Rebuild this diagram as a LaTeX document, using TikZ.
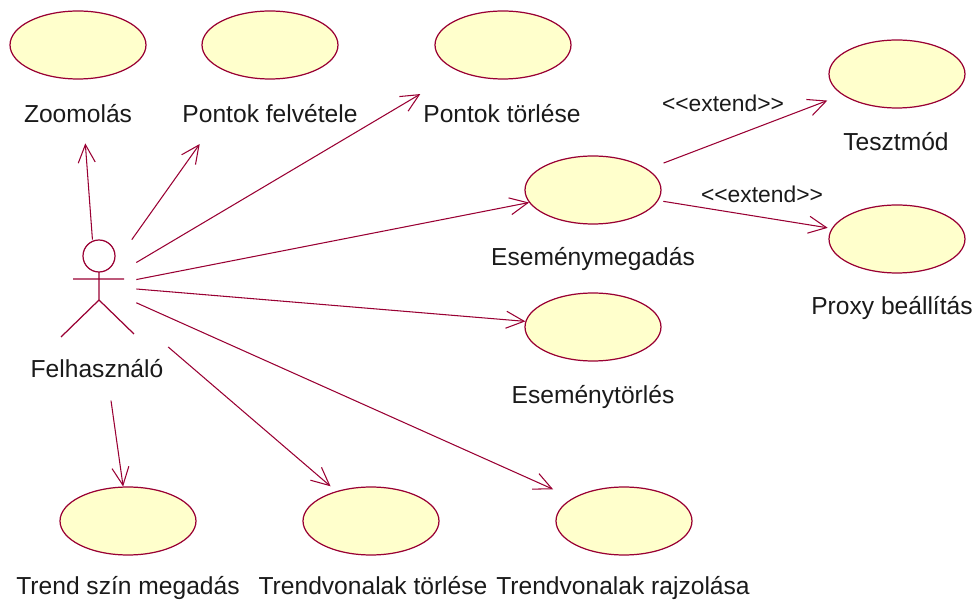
\documentclass[tikz,border=0pt]{standalone}
\usepackage{fontspec}
\setmainfont{Liberation Sans}
\usepackage{xcolor}
\definecolor{rosered}{HTML}{990033}
\definecolor{rosefill}{HTML}{FFFFCC}
\definecolor{inkgray}{HTML}{1A1A1A}
\usetikzlibrary{shapes.geometric, arrows.meta}
\tikzset{
  ucase/.style={ellipse, draw=rosered, line width=0.7pt, fill=rosefill,
                minimum width=2.72cm, minimum height=1.36cm, inner sep=0pt},
  ulbl/.style ={anchor=base, inner sep=0pt, text=inkgray, font=\fontsize{14}{16}\selectfont},
  xlbl/.style ={anchor=base, inner sep=0pt, text=inkgray, font=\fontsize{13}{15}\selectfont},
  uarr/.style ={-{Straight Barb[length=3.6mm, width=3.4mm]}, line width=0.6pt, color=rosered},
  actor/.style={line width=0.7pt, color=rosered},
}

\begin{document}
\begin{tikzpicture}[x=0.02cm, y=-0.02cm]
  \useasboundingbox (0,0) rectangle (975,601);
  % use cases
  \node[ucase] (zoom)   at (78,45)   {};
  \node[ucase] (felv)   at (270,45)  {};
  \node[ucase] (torl)   at (503,45)  {};
  \node[ucase] (teszt)  at (897,74)  {};
  \node[ucase] (esm)    at (593,190) {};
  \node[ucase] (proxy)  at (897,239) {};
  \node[ucase] (estorl) at (593,327) {};
  \node[ucase] (tszin)  at (128,521) {};
  \node[ucase] (tvtorl) at (371,521) {};
  \node[ucase] (tvrajz) at (624,521) {};
  \node[ulbl] (zoomL)   at (78,123)  {Zoomolás};
  \node[ulbl] (felvL)   at (270,123) {Pontok felvétele};
  \node[ulbl] (torlL)   at (502,123) {Pontok törlése};
  \node[ulbl] (tesztL)  at (896,151) {Tesztmód};
  \node[ulbl] (esmL)    at (593,266) {Eseménymegadás};
  \node[ulbl] (proxyL)  at (892,315) {Proxy beállítás};
  \node[ulbl] (estorlL) at (593,404) {Eseménytörlés};
  \node[ulbl] (tszinL)  at (128,595) {Trend szín megadás};
  \node[ulbl] (tvtorlL) at (373,595) {Trendvonalak törlése};
  \node[ulbl] (tvrajzL) at (623,595) {Trendvonalak rajzolása};
  % actor
  \node[minimum width=1.5cm, minimum height=1.96cm, inner sep=0pt] (user) at (98.5,289) {};
  \draw[actor] (99,256) circle[radius=16];
  \draw[actor] (99,272) -- (99,300) (73,279) -- (124,279) (61,337) -- (99,300) -- (134,334);
  \node[ulbl] (userL) at (97,378) {Felhasználó};
  % associations
  \draw[uarr, shorten >=1.28cm] (user.97) -- (zoom);
  \draw[uarr, shorten >=1.63cm] (user.56.4) -- (felv);
  \draw[uarr, shorten >=0.89cm] (user.35.8) -- (torl);
  \draw[uarr] (user.14.9) -- (esm);
  \draw[uarr] (user.0) -- (estorl);
  \draw[uarr, shorten >=0.43cm] (user.-20.5) -- (tvrajz);
  \draw[uarr, shorten <=0.84cm, shorten >=0.15cm] (user.-39.2) -- (tvtorl);
  \draw[uarr] ([xshift=0.28cm, yshift=-0.44cm]userL.south) -- (tszin);
  % extends
  \draw[uarr, shorten <=0.34cm, shorten >=0.32cm] (esm) -- (teszt);
  \draw[uarr, shorten <=0.1cm, shorten >=0.08cm] (esm) -- (proxy);
  \node[xlbl] (ext1) at (723,112) {<\kern0pt<extend>\kern0pt>};
  \node[xlbl] (ext2) at (762,203) {<\kern0pt<extend>\kern0pt>};
\end{tikzpicture}
\end{document}
